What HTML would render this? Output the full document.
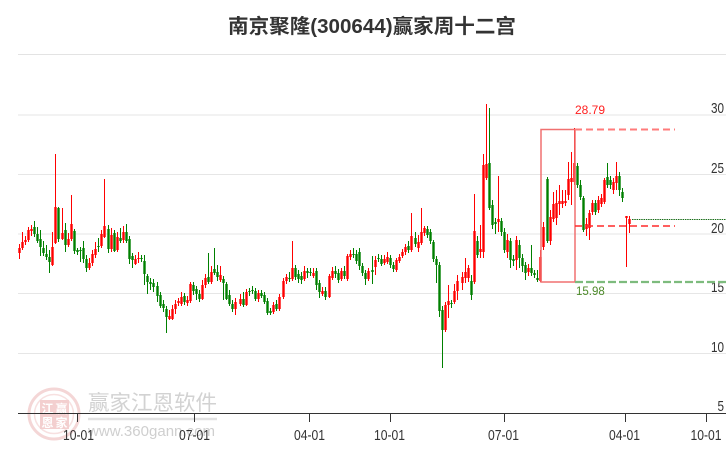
<!DOCTYPE html>
<html><head><meta charset="utf-8">
<style>
html,body{margin:0;padding:0;background:#fff;}
svg{display:block;}
</style></head>
<body>
<svg id="c" width="726" height="450" viewBox="0 0 726 450" xmlns="http://www.w3.org/2000/svg" font-family="'Liberation Sans','Noto Sans CJK SC',sans-serif">
<rect width="726" height="450" fill="#fff"/>
<text x="372" y="33" text-anchor="middle" font-size="20" font-weight="bold" fill="#333" textLength="288" lengthAdjust="spacingAndGlyphs">南京聚隆(300644)赢家周十二宫</text>
<line x1="18" y1="54.5" x2="726" y2="54.5" stroke="#e3e3e3" stroke-width="1"/>

<!-- watermark -->
<g>
<circle cx="54" cy="414" r="25" fill="none" stroke="#f4d6d6" stroke-width="3"/>
<circle cx="54" cy="414" r="19.5" fill="none" stroke="#f7e0e0" stroke-width="1.5"/>
<rect x="40" y="400" width="29" height="29" fill="#f3cfcf"/>
<text x="47.5" y="413" text-anchor="middle" font-size="12" font-weight="bold" fill="#fff">江</text>
<text x="61.5" y="413" text-anchor="middle" font-size="12" font-weight="bold" fill="#fff">赢</text>
<text x="47.5" y="427" text-anchor="middle" font-size="12" font-weight="bold" fill="#fff">恩</text>
<text x="61.5" y="427" text-anchor="middle" font-size="12" font-weight="bold" fill="#fff">家</text>
<text x="88" y="410" font-size="21" fill="#d2d2d2" textLength="129" lengthAdjust="spacingAndGlyphs">赢家江恩软件</text>
<line x1="88" y1="419" x2="217" y2="419" stroke="#e2e2e2" stroke-width="2.5"/>
<text x="88" y="436" font-size="15" fill="#cfcfcf" textLength="127" lengthAdjust="spacingAndGlyphs">www.360gann.com</text>
</g>

<!-- grid -->
<g stroke="#e6e6e6" stroke-width="1">
<line x1="18" y1="115" x2="726" y2="115"/>
<line x1="18" y1="174.5" x2="726" y2="174.5"/>
<line x1="18" y1="234" x2="726" y2="234"/>
<line x1="18" y1="293.5" x2="726" y2="293.5"/>
<line x1="18" y1="353.5" x2="726" y2="353.5"/>
</g>

<!-- y labels -->
<g font-size="15" fill="#333" text-anchor="end">
<text x="724" y="113" textLength="13" lengthAdjust="spacingAndGlyphs">30</text>
<text x="724" y="173" textLength="13" lengthAdjust="spacingAndGlyphs">25</text>
<text x="724" y="233" textLength="13" lengthAdjust="spacingAndGlyphs">20</text>
<text x="724" y="292" textLength="13" lengthAdjust="spacingAndGlyphs">15</text>
<text x="724" y="352" textLength="13" lengthAdjust="spacingAndGlyphs">10</text>
<text x="724" y="411" textLength="6.5" lengthAdjust="spacingAndGlyphs">5</text>
</g>

<g id="k"></g>

<!-- annotations -->
<rect x="541" y="129.5" width="34" height="152.5" fill="none" stroke="#f07070" stroke-width="1.5"/>
<line x1="575" y1="129.5" x2="675" y2="129.5" stroke="#ff7b7b" stroke-width="2" stroke-dasharray="7,4"/>
<line x1="575" y1="226" x2="675" y2="226" stroke="#ff2a2a" stroke-width="1.4" stroke-dasharray="7,4"/>
<line x1="575" y1="282" x2="726" y2="282" stroke="#7dbb7d" stroke-width="2.2" stroke-dasharray="8,3"/>
<line x1="632" y1="219.5" x2="726" y2="219.5" stroke="#1a6e1a" stroke-width="1" stroke-dasharray="1.5,0.8"/>
<text x="575" y="114" font-size="12" fill="#ff2020">28.79</text>
<text x="576" y="295" font-size="11.5" fill="#4d8a2a">15.98</text>

<!-- x axis -->
<line x1="18" y1="413.5" x2="726" y2="413.5" stroke="#333" stroke-width="1"/>
<g stroke="#333" stroke-width="1">
<line x1="77.5" y1="413" x2="77.5" y2="422"/>
<line x1="194.5" y1="413" x2="194.5" y2="422"/>
<line x1="309.5" y1="413" x2="309.5" y2="422"/>
<line x1="390.5" y1="413" x2="390.5" y2="422"/>
<line x1="504.5" y1="413" x2="504.5" y2="422"/>
<line x1="625.5" y1="413" x2="625.5" y2="422"/>
<line x1="706.5" y1="413" x2="706.5" y2="422"/>
</g>
<g font-size="14.5" fill="#333" text-anchor="middle">
<text x="78.5" y="440" textLength="31" lengthAdjust="spacingAndGlyphs">10-01</text>
<text x="194.5" y="440" textLength="31" lengthAdjust="spacingAndGlyphs">07-01</text>
<text x="309.5" y="440" textLength="31" lengthAdjust="spacingAndGlyphs">04-01</text>
<text x="389.5" y="440" textLength="31" lengthAdjust="spacingAndGlyphs">10-01</text>
<text x="503.5" y="440" textLength="31" lengthAdjust="spacingAndGlyphs">07-01</text>
<text x="624.5" y="440" textLength="31" lengthAdjust="spacingAndGlyphs">04-01</text>
<text x="706" y="440" textLength="31" lengthAdjust="spacingAndGlyphs">10-01</text>
</g>
</svg>
<script>
(function(){
var d="19,248,253,r,244,259;22,242,248,r,232,250;25,240,242,r,236,245;28,230,240,r,227,242;31,229,231,r,225,236;34,227,234,g,221,237;37,234,241,g,227,243;40,239,247,g,230,256;43,248,253,g,241,256;46,254,257,g,245,260;49,257,262,g,250,273;52,247,265,r,232,266;55,207,243,r,154,244;58,208,239,g,207,242;62,233,239,r,208,240;65,230,245,g,223,252;68,239,245,r,233,247;71,224,239,r,195,241;74,231,251,g,229,254;77,250,252,g,248,255;80,250,251,g,247,262;83,248,259,g,241,263;86,259,268,g,255,272;89,263,268,r,258,270;92,254,263,r,250,266;95,249,255,r,242,258;98,246,247,g,238,252;101,234,246,r,230,248;104,226,237,r,179,238;108,229,249,g,225,253;111,235,249,r,228,252;114,233,251,g,230,252;117,237,250,r,232,252;120,238,241,g,228,243;123,232,240,r,226,243;126,232,241,g,224,243;129,239,259,g,236,264;132,256,260,g,253,268;135,259,264,r,255,265;138,258,259,r,252,263;141,258,259,g,255,262;144,261,274,g,255,285;147,276,282,g,274,294;150,282,284,g,278,290;153,283,287,g,279,292;157,286,296,g,282,302;160,295,306,g,292,308;163,304,308,g,300,312;166,309,317,g,306,333;169,316,319,r,310,320;172,309,319,r,305,320;175,304,309,r,300,314;178,301,303,r,298,306;181,297,304,r,292,306;184,296,302,g,293,305;187,300,303,r,296,306;190,284,301,r,282,303;193,285,291,g,282,295;196,289,294,g,286,300;199,294,299,g,290,302;202,285,299,r,280,300;205,278,285,r,274,288;208,277,282,g,253,284;211,272,282,r,266,284;214,269,273,g,248,275;217,272,277,g,265,281;220,275,280,r,266,282;223,279,283,g,276,300;226,284,299,g,282,300;229,295,304,g,290,306;232,304,309,g,300,312;235,302,309,r,298,315;240,299,304,r,294,306;243,299,305,g,292,307;246,292,305,r,289,306;249,291,292,g,288,296;252,290,291,g,286,294;255,291,299,g,288,301;258,293,299,r,290,302;261,293,296,g,290,298;264,295,302,g,292,304;267,301,313,g,298,315;270,311,313,g,308,315;273,305,312,r,302,314;276,304,309,g,300,311;279,297,309,r,294,311;283,281,297,r,278,299;286,277,281,r,274,284;289,278,279,g,272,282;292,268,279,r,241,281;295,268,277,g,265,280;298,274,279,g,270,283;301,276,280,g,272,284;304,271,279,r,266,281;307,271,273,g,268,278;310,272,273,g,268,276;313,273,276,r,268,278;316,271,285,g,268,290;319,283,292,g,280,298;322,291,294,r,287,296;325,291,297,g,287,300;329,276,297,r,274,298;332,271,278,r,267,280;335,271,274,g,266,278;338,273,280,g,269,283;341,271,279,r,268,281;344,271,276,g,266,279;347,256,279,r,254,281;350,254,257,r,250,260;353,254,255,g,248,258;356,254,261,g,250,264;359,252,266,g,248,270;362,266,273,g,263,276;365,273,279,g,270,285;368,271,279,r,268,281;372,270,272,g,256,284;375,260,267,r,256,275;378,258,259,g,254,262;381,259,264,g,255,266;384,259,263,r,255,265;387,257,262,r,252,264;390,258,265,g,255,268;393,265,269,g,262,272;396,260,270,r,258,272;399,257,261,r,254,263;402,252,256,r,249,258;405,247,252,r,244,255;408,246,250,g,241,253;411,236,250,r,213,252;415,238,244,g,232,247;418,242,248,r,235,252;421,232,243,r,208,245;424,228,233,r,226,236;427,229,235,g,226,238;430,232,241,g,229,244;433,242,259,g,240,262;436,259,265,g,256,283;439,265,311,g,262,317;442,310,330,g,306,368;445,305,330,r,302,332;448,301,305,r,285,318;451,303,304,g,300,308;454,291,302,r,284,304;457,281,291,r,275,300;462,277,283,r,272,290;465,272,278,r,258,283;468,268,278,r,265,282;471,281,295,g,275,300;474,231,282,r,194,284;477,241,255,g,236,258;480,249,252,r,225,258;483,165,252,r,154,258;486,164,178,r,104,180;489,163,208,g,108,210;492,205,225,g,200,229;495,222,224,g,218,234;498,219,222,r,176,232;501,221,232,g,218,236;504,232,250,g,228,253;507,240,252,r,234,258;510,241,260,g,238,268;513,259,261,g,255,266;516,240,260,r,236,270;519,245,258,g,240,268;522,258,266,g,254,272;525,265,273,g,262,280;528,268,272,r,264,276;531,268,273,g,245,276;534,273,275,g,270,278;537,278,280,g,270,282;540,257,281,r,250,282;543,227,247,r,222,250;547,179,241,g,177,243;550,217,241,r,210,245;553,204,219,r,192,222;556,203,218,r,190,225;559,201,204,r,185,215;562,201,204,r,190,208;565,201,203,r,190,206;568,179,195,r,162,200;571,178,182,r,152,205;574,163,182,r,128,185;577,166,185,g,163,188;580,185,197,g,180,200;583,198,230,g,196,232;586,224,229,r,218,236;589,213,228,r,210,240;592,203,212,r,200,215;595,203,212,g,200,215;598,200,210,r,196,213;601,198,204,r,194,207;604,180,202,r,178,204;607,177,185,g,163,188;610,180,185,g,176,189;613,182,190,r,178,194;616,176,183,r,162,190;619,176,190,g,172,196;622,192,198,g,188,202;626,216,218,r,216,267;629,219,224,r,216,233";
var NS="http://www.w3.org/2000/svg";
var g=document.getElementById('k');
d.split(';').forEach(function(s){
 var p=s.split(',');
 var x=+p[0],t=+p[1],b=+p[2],c=(p[3]=='r')?'#ff0000':'#008000',wt=+p[4],wb=+p[5];
 if(b-t<1)b=t+1;
 var l=document.createElementNS(NS,'line');
 l.setAttribute('x1',x+0.5);l.setAttribute('x2',x+0.5);
 l.setAttribute('y1',wt);l.setAttribute('y2',wb);
 l.setAttribute('stroke',c);l.setAttribute('stroke-width','1');
 g.appendChild(l);
 var r=document.createElementNS(NS,'rect');
 r.setAttribute('x',x-0.7);r.setAttribute('y',t);
 r.setAttribute('width','2.4');r.setAttribute('height',b-t);
 r.setAttribute('fill',c);
 g.appendChild(r);
});
})();
</script>
</body></html>
